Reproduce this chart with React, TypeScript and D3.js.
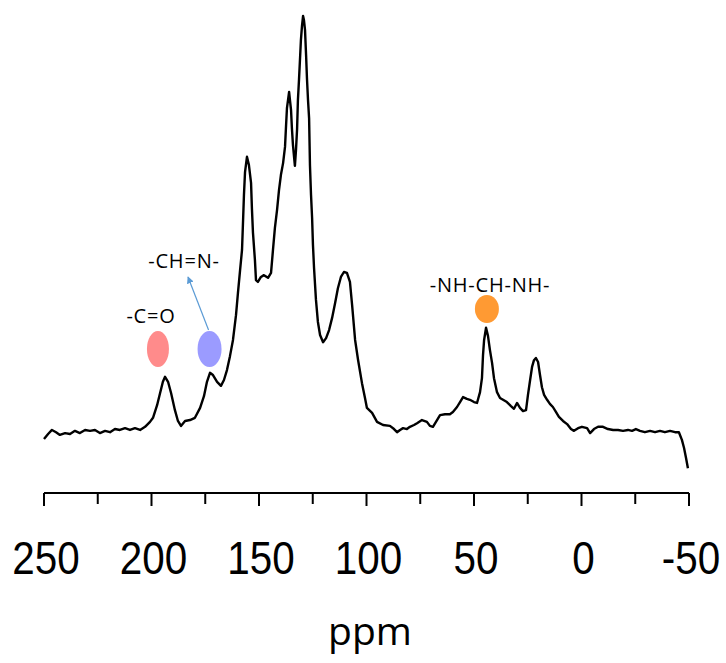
import React from "react";
import * as d3 from "d3";

// Chemical shift (ppm) and relative intensity of the solid-state 13C NMR trace
const shifts = [
  250.0, 248.1, 246.3, 244.4, 242.6, 240.2, 237.9, 235.6, 233.3, 230.9,
  228.6, 226.3, 224.0, 221.6, 219.3, 217.0, 214.7, 212.3, 210.0, 207.7,
  205.3, 203.0, 200.7, 199.3, 197.4, 196.0, 194.7, 193.7, 192.3, 190.9,
  189.1, 187.7, 186.3, 184.4, 182.1, 179.8, 177.4, 175.6, 174.2, 172.8,
  171.4, 169.5, 167.7, 166.3, 164.9, 163.5, 162.1, 160.7, 159.8, 158.8,
  157.9, 157.4, 157.0, 156.5, 155.6, 154.7, 153.7, 153.3, 152.8, 151.9,
  151.4, 150.5, 149.1, 147.7, 145.8, 144.4, 143.5, 142.6, 141.6, 140.7,
  139.8, 138.8, 137.9, 137.4, 137.0, 136.0, 135.6, 135.1, 134.7, 134.2,
  133.3, 132.8, 132.3, 131.9, 131.4, 130.9, 130.5, 130.0, 129.5, 129.1,
  128.6, 128.1, 127.7, 127.2, 126.7, 126.3, 125.8, 125.3, 124.9, 124.4,
  123.5, 122.6, 121.6, 120.2, 118.8, 117.4, 116.0, 114.6, 113.3, 111.9,
  110.5, 109.1, 107.7, 106.7, 105.3, 103.9, 102.1, 100.7, 99.8, 97.4,
  95.1, 92.3, 89.1, 87.2, 85.8, 84.4, 83.0, 81.2, 79.8, 77.9,
  76.5, 74.2, 71.9, 70.5, 69.1, 67.2, 65.8, 63.5, 61.2, 59.8,
  57.9, 56.5, 55.1, 53.3, 51.9, 50.0, 48.6, 47.2, 46.3, 45.8,
  45.3, 44.4, 43.5, 42.6, 41.6, 40.7, 39.3, 37.9, 36.5, 34.7,
  32.8, 31.4, 30.0, 28.6, 27.2, 25.8, 24.9, 23.9, 23.0, 22.1,
  21.2, 20.2, 19.3, 18.4, 17.4, 16.0, 14.7, 13.3, 11.9, 10.5,
  8.6, 6.7, 4.9, 3.5, 1.6, -0.2, -2.6, -4.0, -5.8, -7.7,
  -10.0, -12.3, -14.7, -17.0, -19.3, -21.6, -23.5, -25.3, -27.2, -29.5,
  -31.9, -34.2, -36.5, -38.8, -41.2, -43.5, -45.3, -46.7, -47.7, -48.6,
  -49.5,
];

const intensities = [
  6.9, 8.0, 8.9, 8.4, 7.8, 8.2, 8.0, 8.7, 8.2, 8.9,
  8.7, 8.9, 8.2, 8.7, 8.4, 9.1, 8.9, 9.3, 8.9, 9.3,
  8.9, 9.6, 10.7, 11.6, 14.4, 17.1, 19.6, 20.7, 19.6, 17.1,
  13.3, 10.9, 9.8, 10.9, 11.1, 11.6, 13.8, 16.4, 19.6, 21.6,
  21.1, 19.6, 18.7, 20.0, 22.2, 25.3, 28.9, 34.4, 39.3, 44.4,
  48.9, 55.6, 61.1, 66.2, 69.6, 67.8, 63.8, 58.2, 52.7, 46.7,
  42.2, 41.8, 42.9, 43.3, 42.7, 43.8, 48.9, 53.8, 57.8, 62.2,
  65.6, 68.2, 71.8, 76.7, 80.4, 84.0, 82.2, 80.0, 76.0, 72.2,
  67.6, 71.1, 75.6, 82.2, 86.7, 91.6, 95.6, 98.7, 100.9, 100.0,
  97.8, 92.2, 87.1, 82.2, 78.2, 67.8, 61.1, 56.0, 50.0, 44.9,
  37.8, 32.9, 30.0, 28.4, 29.3, 31.1, 33.8, 37.1, 40.4, 42.9,
  44.0, 43.8, 41.8, 36.7, 28.9, 24.4, 19.3, 16.0, 13.8, 12.7,
  10.7, 10.0, 9.8, 9.1, 8.4, 8.9, 9.3, 9.1, 9.6, 10.0,
  10.4, 11.1, 10.7, 9.8, 9.6, 11.1, 12.2, 12.4, 12.4, 12.9,
  14.0, 15.1, 16.2, 15.8, 15.6, 15.1, 14.9, 17.3, 20.4, 25.6,
  28.9, 31.6, 29.8, 26.7, 23.8, 20.4, 17.3, 16.0, 15.6, 15.1,
  14.2, 13.6, 14.9, 13.8, 13.1, 13.3, 16.7, 20.0, 22.9, 24.4,
  24.9, 24.0, 21.1, 18.4, 16.7, 15.6, 14.7, 14.0, 12.9, 11.8,
  10.9, 10.2, 9.1, 8.7, 9.3, 9.6, 9.3, 8.2, 9.1, 9.6,
  9.6, 9.1, 8.9, 8.9, 8.7, 8.9, 8.7, 9.1, 8.7, 8.4,
  8.7, 8.4, 8.7, 8.4, 8.7, 8.4, 8.4, 6.7, 4.9, 2.7,
  0.4,
];

// Axis ticks every 25 ppm, labelled every 50 ppm
const tickValues = [250, 225, 200, 175, 150, 125, 100, 75, 50, 25, 0, -25, -50];
const tickLabels = ["250", "200", "150", "100", "50", "0", "-50"];

// Functional-group markers
const groupLabels = ["-C=O", "-CH=N-", "-NH-CH-NH-"];
const groupShifts = [197, 173, 44];
const groupColors = ["#ff8b8b", "#9b9bff", "#ff9a33"];

const W = 726;
const H = 663;

export default function App() {
  const x = d3.scaleLinear().domain([250, -50]).range([44, 689]);
  const y = d3.scaleLinear().domain([0, 100]).range([470, 20]);

  const points: [number, number][] = shifts.map((s, i) => [s, intensities[i]]);
  const line = d3
    .line<[number, number]>()
    .x((d) => x(d[0]))
    .y((d) => y(d[1]))
    .curve(d3.curveLinear);

  const axisY = 493;
  const annoFont = "'Open Sans', 'Noto Sans', sans-serif";

  const redX = x(groupShifts[0]);
  const blueX = x(groupShifts[1]);
  const orangeX = x(groupShifts[2]);

  return (
    <svg
      width={W}
      height={H}
      viewBox={`0 0 ${W} ${H}`}
      style={{ position: "absolute", left: 0, top: 0, background: "#fff" }}
    >
      <defs>
        <marker
          id="arrowHead"
          viewBox="0 0 10 10"
          refX="9"
          refY="5"
          markerWidth="7"
          markerHeight="7"
          orient="auto-start-reverse"
          markerUnits="userSpaceOnUse"
        >
          <path d="M0,0 L10,5 L0,10 z" fill="#5b9bd5" />
        </marker>
      </defs>

      {/* spectrum */}
      <path
        d={line(points) || ""}
        fill="none"
        stroke="#000"
        strokeWidth={2.4}
        strokeLinejoin="round"
      />

      {/* x axis */}
      <line x1={x(250)} x2={x(-50)} y1={axisY} y2={axisY} stroke="#000" strokeWidth={2} />
      {tickValues.map((v) => (
        <line
          key={v}
          x1={x(v)}
          x2={x(v)}
          y1={axisY}
          y2={axisY + (v % 50 === 0 ? 13 : 11)}
          stroke="#000"
          strokeWidth={2}
        />
      ))}
      {tickLabels.map((t) => (
        <text
          key={t}
          transform={`translate(${x(+t) + 2},574) scale(0.86,1)`}
          textAnchor="middle"
          fontFamily="'Liberation Sans', Arial, sans-serif"
          fontSize={47}
          fill="#000"
        >
          {t}
        </text>
      ))}
      <text
        x={370}
        y={645}
        textAnchor="middle"
        fontFamily={annoFont}
        fontSize={39}
        fill="#000"
      >
        ppm
      </text>

      {/* group markers */}
      <ellipse cx={redX} cy={349} rx={11} ry={18} fill={groupColors[0]} />
      <ellipse cx={blueX} cy={349} rx={12} ry={18} fill={groupColors[1]} />
      <ellipse cx={orangeX} cy={309} rx={12} ry={14} fill={groupColors[2]} />

      <line
        x1={blueX - 1}
        y1={330}
        x2={188}
        y2={277}
        stroke="#5b9bd5"
        strokeWidth={1.2}
        markerEnd="url(#arrowHead)"
      />

      <text x={151} y={323} textAnchor="middle" fontFamily={annoFont} fontSize={20} letterSpacing={0.8} fill="#000">
        {groupLabels[0]}
      </text>
      <text x={184} y={268} textAnchor="middle" fontFamily={annoFont} fontSize={20} letterSpacing={0.8} fill="#000">
        {groupLabels[1]}
      </text>
      <text x={490} y={292} textAnchor="middle" fontFamily={annoFont} fontSize={20} letterSpacing={0.8} fill="#000">
        {groupLabels[2]}
      </text>
    </svg>
  );
}
